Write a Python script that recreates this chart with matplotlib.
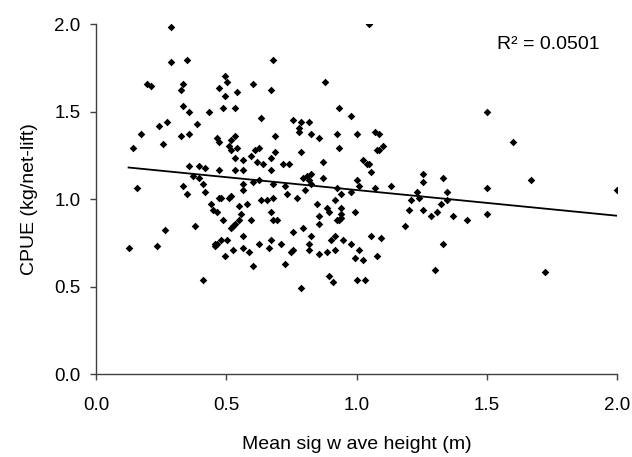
import matplotlib
matplotlib.use("Agg")
import matplotlib.pyplot as plt
import numpy as np

plt.rcParams['font.family'] = ['Liberation Sans', 'DejaVu Sans']

wave_height = [
    0.287, 0.287, 0.348, 0.195, 0.210, 0.333, 0.325, 0.471, 0.333, 0.356,
    0.433, 0.271, 0.241, 0.387, 0.172, 0.325, 0.356, 0.463, 0.471, 0.141,
    0.256,
    0.678, 0.494, 0.502, 0.601, 0.671, 0.878, 0.494, 0.540, 0.486, 0.532,
    0.932, 0.632, 0.755, 0.786, 0.817, 0.778, 0.778, 0.824, 0.855, 0.924,
    0.932, 0.532, 0.517, 0.509, 0.517, 0.540, 0.609, 0.625, 0.686, 0.686,
    0.594, 0.532, 0.563, 0.617, 0.640, 0.671, 0.717, 0.740, 0.786, 0.870,
    1.047, 0.978, 1.001, 1.070, 1.085, 1.101, 1.078, 1.085, 1.024, 1.039,
    1.047,
    1.500, 1.600, 1.500, 1.669, 1.423, 1.500, 1.722, 2.000,
    0.356, 0.394, 0.417, 0.471, 0.156, 0.333, 0.371, 0.394, 0.410, 0.348,
    0.417, 0.471, 0.440, 0.448, 0.463, 0.264, 0.379, 0.125, 0.233, 0.456,
    0.463, 0.456, 0.410,
    0.532, 0.563, 0.671, 0.870, 0.793, 0.809, 0.824, 0.817, 0.824, 0.625,
    0.601, 0.563, 0.563, 0.678, 0.724, 0.801, 0.924, 0.732, 0.479, 0.509,
    0.517, 0.632, 0.655, 0.678, 0.770, 0.916, 0.578, 0.548, 0.847, 0.886,
    0.893, 0.671, 0.555, 0.486, 0.548, 0.594, 0.678, 0.694, 0.855, 0.924,
    0.532, 0.525, 0.517, 0.855, 0.755, 0.793, 0.563, 0.824, 0.916, 0.901,
    0.479, 0.502, 0.671, 0.625, 0.709, 0.817, 0.563, 0.663, 0.525, 0.586,
    0.747, 0.755, 0.817, 0.916, 0.886, 0.855, 0.494, 0.601, 0.724, 0.893,
    0.909, 0.786,
    1.055, 1.001, 1.008, 0.939, 0.978, 1.070, 1.131, 0.939, 0.939, 0.939,
    0.932, 0.993, 1.254, 1.254, 1.331, 1.231, 1.208, 1.239, 1.346, 1.346,
    1.323, 1.200, 1.254, 1.308, 1.285, 1.369, 1.185, 0.947, 1.055, 1.093,
    0.978, 1.008, 0.993, 1.024, 1.078, 1.331, 1.300, 1.001, 1.032,
]
cpue = [
    1.983, 1.785, 1.798, 1.659, 1.647, 1.659, 1.625, 1.638, 1.535, 1.499,
    1.499, 1.442, 1.419, 1.430, 1.373, 1.362, 1.373, 1.350, 1.327, 1.293,
    1.316,
    1.796, 1.705, 1.671, 1.659, 1.625, 1.671, 1.590, 1.613, 1.522, 1.522,
    1.522, 1.464, 1.453, 1.442, 1.442, 1.407, 1.385, 1.373, 1.350, 1.373,
    1.293, 1.362, 1.339, 1.305, 1.282, 1.293, 1.282, 1.293, 1.362, 1.270,
    1.247, 1.236, 1.225, 1.213, 1.202, 1.236, 1.202, 1.202, 1.270, 1.213,
    2.000, 1.476, 1.373, 1.385, 1.373, 1.305, 1.282, 1.282, 1.225, 1.202,
    1.202,
    1.499, 1.327, 1.065, 1.110, 0.881, 0.916, 0.585, 1.054,
    1.190, 1.190, 1.179, 1.168, 1.065, 1.076, 1.133, 1.122, 1.087, 1.030,
    1.042, 1.007, 0.973, 0.939, 0.927, 0.825, 0.847, 0.722, 0.733, 0.745,
    0.745, 0.733, 0.539,
    1.168, 1.168, 1.168, 1.122, 1.122, 1.133, 1.145, 1.110, 1.087, 1.110,
    1.099, 1.087, 1.053, 1.087, 1.076, 1.053, 1.065, 1.030, 1.007, 1.007,
    1.019, 0.996, 0.996, 1.007, 1.007, 0.996, 0.973, 0.962, 0.973, 0.950,
    0.927, 0.927, 0.916, 0.882, 0.882, 0.882, 0.882, 0.882, 0.905, 0.882,
    0.859, 0.847, 0.836, 0.859, 0.813, 0.836, 0.790, 0.790, 0.790, 0.767,
    0.767, 0.767, 0.767, 0.745, 0.745, 0.745, 0.722, 0.722, 0.710, 0.699,
    0.699, 0.710, 0.710, 0.710, 0.699, 0.687, 0.676, 0.619, 0.630, 0.562,
    0.527, 0.493,
    1.156, 1.110, 1.076, 1.030, 1.042, 1.065, 1.076, 0.950, 0.916, 0.893,
    0.882, 0.927, 1.145, 1.099, 1.122, 1.042, 0.996, 1.007, 1.042, 0.996,
    0.973, 0.939, 0.939, 0.927, 0.905, 0.905, 0.847, 0.767, 0.790, 0.779,
    0.745, 0.710, 0.665, 0.653, 0.676, 0.745, 0.596, 0.539, 0.539,
]

trend_intercept = 1.200
trend_slope = -0.147
r2_text = "R² = 0.0501"

fig = plt.figure(figsize=(6.32, 4.57), dpi=100)
ax = fig.add_axes([96/632, 1 - 374.3/457, (617-96)/632, (374.3-24.3)/457])

ax.scatter(wave_height, cpue, marker='D', s=15, color='black', linewidths=0, zorder=3)

xl = np.array([min(wave_height), max(wave_height)])
ax.plot(xl, trend_intercept + trend_slope * xl, color='black', lw=1.3, zorder=2)

ax.set_xlim(0, 2.0)
ax.set_ylim(0, 2.0)
ticks = [0.0, 0.5, 1.0, 1.5, 2.0]
ax.set_xticks(ticks)
ax.set_yticks(ticks)
ax.set_xticklabels([f"{t:.1f}" for t in ticks])
ax.set_yticklabels([f"{t:.1f}" for t in ticks])

for s in ['top', 'right']:
    ax.spines[s].set_visible(False)
for s in ['left', 'bottom']:
    ax.spines[s].set_color('#404040')
    ax.spines[s].set_linewidth(1.0)
ax.tick_params(direction='out', length=4, width=1.0, color='#404040',
               labelsize=13.5)
ax.tick_params(axis='y', pad=7)
ax.tick_params(axis='x', pad=12)

ax.set_xlabel("Mean sig w ave height (m)", fontsize=14, labelpad=16)
ax.set_ylabel("CPUE (kg/net-lift)", fontsize=14, labelpad=12)

ax.text(1.54, 1.887, r2_text, fontsize=14, ha='left', va='center')

fig.savefig("out.png", dpi=100)
